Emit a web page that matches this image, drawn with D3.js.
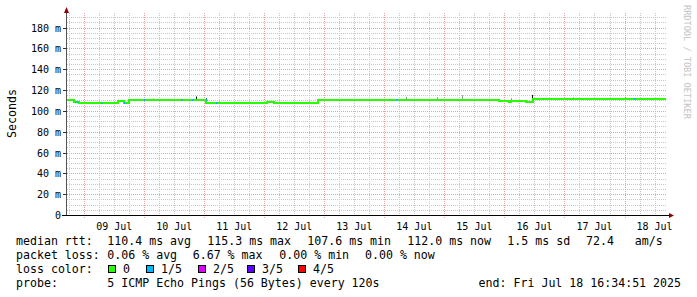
<!DOCTYPE html>
<meta charset="UTF-8">
<head>
<title>SmokePing median rtt</title>
<style>
body { margin: 0; background: #fff; }
svg text { font-family: "DejaVu Sans Mono", monospace; fill: #000; }
.tick text { font-size: 10px; }
.legend text { font-size: 11.6px; white-space: pre; }
</style>
</head>
<body>
<script src="https://d3js.org/d3.v7.min.js"></script>
<script>

// median rtt in ms, step changes
var stepTimes = ["2025-07-08T17:05","2025-07-08T19:50","2025-07-08T21:50","2025-07-09T13:40",
                 "2025-07-09T15:50","2025-07-09T17:50","2025-07-11T00:40","2025-07-12T01:00",
                 "2025-07-12T03:50","2025-07-12T21:30","2025-07-15T21:50","2025-07-16T01:40",
                 "2025-07-16T02:40","2025-07-16T08:40","2025-07-16T11:30","2025-07-18T16:35"];
var medianMs  = [110.4, 108.3, 107.5, 109.4, 107.5, 110.4, 107.5, 108.5,
                 107.5, 110.4, 109.4, 108.6, 109.4, 108.3, 111.4, 111.4];

// samples with 1/5 loss
var lossTimes = ["2025-07-08T20:10","2025-07-08T21:00","2025-07-09T06:35","2025-07-09T15:53",
                 "2025-07-09T23:53","2025-07-10T14:40","2025-07-10T19:17","2025-07-11T00:34",
                 "2025-07-11T04:34","2025-07-14T04:34","2025-07-18T03:36"];

// smoke spikes: time, low, high (ms), dark or light
var smokeTimes = ["2025-07-08T19:40","2025-07-09T13:40","2025-07-09T17:40","2025-07-10T03:30",
                  "2025-07-10T20:53","2025-07-11T00:40","2025-07-12T21:20","2025-07-14T08:40",
                  "2025-07-14T21:12","2025-07-15T07:12","2025-07-16T02:40","2025-07-16T08:20",
                  "2025-07-16T11:05","2025-07-17T03:30","2025-07-18T00:17"];
var smokeLow  = [108.0, 108.0, 107.5, 110.4, 110.4, 107.0, 107.5, 110.4, 110.4, 110.4, 109.4, 108.3, 107.8, 111.4, 111.4];
var smokeHigh = [110.8, 110.6, 110.8, 112.0, 113.8, 112.0, 110.8, 113.6, 113.2, 115.0, 112.2, 109.6, 115.3, 113.0, 113.4];
var smokeDark = [1, 1, 1, 0, 1, 1, 1, 0, 0, 0, 0, 1, 1, 0, 0];

var yTicks = [0, 20, 40, 60, 80, 100, 120, 140, 160, 180];
var dayLabels = ["09 Jul","10 Jul","11 Jul","12 Jul","13 Jul","14 Jul","15 Jul","16 Jul","17 Jul","18 Jul"];

var lossNames  = ["0", "1/5", "2/5", "3/5", "4/5"];
var lossColors = ["#26ff00", "#00b8ff", "#dd00ff", "#5e00ff", "#ff0000"];

// legend rows: text pieces and where rrdtool put them
var rttText = ["median rtt:", "110.4 ms avg", "115.3 ms max", "107.6 ms min", "112.0 ms now", "1.5 ms sd", "72.4   am/s"];
var rttX    = [16, 107.3, 207.3, 307.3, 407.3, 507.3, 586];
var lossText = ["packet loss:", "0.06 % avg", "6.67 % max", "0.00 % min", "0.00 % now"];
var lossX    = [16, 107.3, 192.7, 279.3, 365];

var width = 697, height = 297;
var parse = d3.isoParse;

var svg = d3.select("body").append("svg")
    .attr("width", width)
    .attr("height", height);

var x = d3.scaleTime()
    .domain([new Date(2025, 6, 8, 17, 8), new Date(2025, 6, 18, 16, 35)])
    .range([67, 666]);
var y = d3.scaleLinear().domain([0, 192]).range([215, 15]);

var px = function(v) { return Math.round(v) + 0.5; };

// grid
var grid = svg.append("g").attr("class", "grid");
grid.selectAll("line.hmin")
    .data(d3.range(5, 193, 5).filter(function(v) { return v % 20; }))
  .enter().append("line")
    .attr("x1", 67).attr("x2", 666)
    .attr("y1", function(d) { return px(y(d)); })
    .attr("y2", function(d) { return px(y(d)); })
    .attr("stroke", "#c8c8c8").attr("stroke-dasharray", "1,1");
grid.selectAll("line.vmin")
    .data(x.ticks(d3.timeHour.every(6)).filter(function(d) { return d.getHours() != 0; }))
  .enter().append("line")
    .attr("x1", function(d) { return px(x(d)); })
    .attr("x2", function(d) { return px(x(d)); })
    .attr("y1", 13).attr("y2", 215)
    .attr("stroke", "#c8c8c8").attr("stroke-dasharray", "1,1");
grid.selectAll("line.hmaj")
    .data(yTicks.slice(1))
  .enter().append("line")
    .attr("x1", 63).attr("x2", 666)
    .attr("y1", function(d) { return px(y(d)); })
    .attr("y2", function(d) { return px(y(d)); })
    .attr("stroke", "#eaa0a0").attr("stroke-dasharray", "1,1");
var days = x.ticks(d3.timeDay.every(1));
grid.selectAll("line.vmaj")
    .data(days)
  .enter().append("line")
    .attr("x1", function(d) { return px(x(d)); })
    .attr("x2", function(d) { return px(x(d)); })
    .attr("y1", 13).attr("y2", 218)
    .attr("stroke", "#eaa0a0").attr("stroke-dasharray", "1,1");

// smoke
svg.append("g").selectAll("rect")
    .data(smokeTimes)
  .enter().append("rect")
    .attr("x", function(d) { return Math.round(x(parse(d))); })
    .attr("width", 1)
    .attr("y", function(d, i) { return y(smokeHigh[i]); })
    .attr("height", function(d, i) { return y(smokeLow[i]) - y(smokeHigh[i]); })
    .attr("fill", function(d, i) { return smokeDark[i] ? "#111" : "#999"; });

// median line, colour by loss
var steps = stepTimes.map(function(t, i) { return {t: parse(t), v: medianMs[i]}; });
svg.append("path")
    .datum(steps)
    .attr("fill", "none")
    .attr("stroke", lossColors[0])
    .attr("stroke-width", 2)
    .attr("shape-rendering", "crispEdges")
    .attr("d", d3.line()
        .curve(d3.curveStepAfter)
        .x(function(d) { return x(d.t); })
        .y(function(d) { return y(d.v); }));

var bisect = d3.bisector(function(d) { return d.t; }).right;
svg.append("g").selectAll("rect")
    .data(lossTimes)
  .enter().append("rect")
    .attr("x", function(d) { return Math.round(x(parse(d))); })
    .attr("width", 1.5)
    .attr("y", function(d) { var s = steps[bisect(steps, parse(d)) - 1]; return y(s.v) - 1; })
    .attr("height", 2)
    .attr("fill", lossColors[1]);

// axes
svg.append("line")
    .attr("x1", 66.5).attr("x2", 66.5).attr("y1", 11).attr("y2", 216)
    .attr("stroke", "#555");
svg.append("line")
    .attr("x1", 62).attr("x2", 670).attr("y1", 215.5).attr("y2", 215.5)
    .attr("stroke", "#000");
svg.append("path")
    .attr("d", "M64,13 L69,13 L66.5,7 Z")
    .attr("fill", "#900000");
svg.append("path")
    .attr("d", "M669,213 L669,218 L674,215.5 Z")
    .attr("fill", "#900000");

var yAxis = svg.append("g").attr("class", "tick");
yAxis.selectAll("line")
    .data(yTicks.slice(1))
  .enter().append("line")
    .attr("x1", 63).attr("x2", 67)
    .attr("y1", function(d) { return px(y(d)); })
    .attr("y2", function(d) { return px(y(d)); })
    .attr("stroke", "#333");
yAxis.selectAll("text")
    .data(yTicks)
  .enter().append("text")
    .attr("x", 61)
    .attr("y", function(d) { return y(d) + 4; })
    .attr("text-anchor", "end")
    .text(function(d) { return d == 0 ? "0" : d + " m"; });

svg.append("g").attr("class", "tick").selectAll("text")
    .data(days)
  .enter().append("text")
    .attr("x", function(d) { return x(d3.timeHour.offset(d, 12)); })
    .attr("y", 229.5)
    .attr("text-anchor", "middle")
    .text(function(d, i) { return dayLabels[i]; });

svg.append("text")
    .attr("transform", "translate(16,113.5) rotate(-90)")
    .attr("text-anchor", "middle")
    .style("font-size", "11.6px")
    .text("Seconds");

svg.append("text")
    .attr("transform", "translate(684,5) rotate(90)")
    .style("font-size", "8.6px")
    .style("fill", "#c4c4c4")
    .text("RRDTOOL / TOBI OETIKER");

// legend
var legend = svg.append("g").attr("class", "legend");
legend.selectAll("text.rtt")
    .data(rttText)
  .enter().append("text")
    .attr("x", function(d, i) { return rttX[i]; })
    .attr("y", 245)
    .text(function(d) { return d; });
legend.selectAll("text.loss")
    .data(lossText)
  .enter().append("text")
    .attr("x", function(d, i) { return lossX[i]; })
    .attr("y", 259)
    .text(function(d) { return d; });
legend.append("text").attr("x", 16).attr("y", 273)
    .text("loss color:");
legend.append("text").attr("x", 16).attr("y", 287)
    .text("probe:");
legend.append("text").attr("x", 107.3).attr("y", 287)
    .text("5 ICMP Echo Pings (56 Bytes) every 120s");
legend.append("text").attr("x", 681).attr("y", 287)
    .attr("text-anchor", "end")
    .text("end: Fri Jul 18 16:34:51 2025");

var boxX = [108, 146, 198, 247, 298];
legend.selectAll("rect")
    .data(lossNames)
  .enter().append("rect")
    .attr("x", function(d, i) { return boxX[i] + 0.5; })
    .attr("y", 265.5)
    .attr("width", 7).attr("height", 7)
    .attr("fill", function(d, i) { return lossColors[i]; })
    .attr("stroke", "#000");
legend.selectAll("text.ln")
    .data(lossNames)
  .enter().append("text")
    .attr("class", "ln")
    .attr("x", function(d, i) { return boxX[i] + 15; })
    .attr("y", 273)
    .text(function(d) { return d; });

</script>
</body>
